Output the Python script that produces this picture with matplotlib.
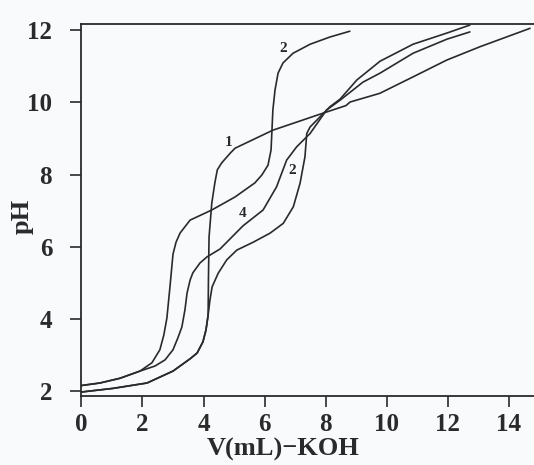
import matplotlib
matplotlib.use('Agg')
import matplotlib.pyplot as plt

plt.rcParams['font.family'] = ['Liberation Serif', 'DejaVu Serif']

# titration curves, pH vs volume of KOH (mL)
v1 = [0, 1.03, 2.15, 3.00, 3.56, 3.79, 3.98, 4.08, 4.15, 4.16, 4.18, 4.27, 4.37, 4.45,
      4.59, 4.87, 5.03, 6.27, 7.91, 8.66, 8.80, 9.77, 10.87, 11.96, 13.05, 14.69]
ph1 = [1.98, 2.08, 2.23, 2.56, 2.90, 3.06, 3.37, 3.70, 4.11, 5.08, 6.27, 7.21, 7.77, 8.13,
       8.32, 8.59, 8.73, 9.23, 9.70, 9.91, 10.01, 10.25, 10.71, 11.17, 11.54, 12.05]

v2 = [0, 0.61, 1.26, 1.92, 2.31, 2.57, 2.70, 2.80, 2.90, 3.00, 3.10, 3.23, 3.56, 4.27,
      5.03, 5.68, 5.91, 6.11, 6.21, 6.24, 6.27, 6.34, 6.44, 6.60, 6.93, 7.49, 8.14, 8.79]
ph2 = [2.16, 2.23, 2.36, 2.56, 2.79, 3.15, 3.56, 4.03, 4.89, 5.80, 6.13, 6.38, 6.74, 7.02,
       7.38, 7.77, 7.99, 8.26, 8.68, 9.23, 9.79, 10.34, 10.81, 11.09, 11.36, 11.61, 11.81, 11.97]

v3 = [0, 1.03, 2.15, 3.00, 3.56, 3.79, 3.98, 4.08, 4.15, 4.21, 4.28, 4.48, 4.76, 5.09,
      5.63, 6.18, 6.61, 6.94, 7.16, 7.32, 7.38, 7.49, 7.92, 8.14, 8.47, 9.02, 9.78, 10.86,
      11.97, 12.72]
ph3 = [1.98, 2.08, 2.23, 2.56, 2.90, 3.06, 3.37, 3.70, 4.11, 4.53, 4.89, 5.27, 5.64, 5.91,
       6.13, 6.38, 6.65, 7.11, 7.76, 8.49, 9.14, 9.32, 9.69, 9.88, 10.09, 10.62, 11.14, 11.61,
       11.92, 12.14]

v4 = [0, 0.61, 1.26, 1.92, 2.41, 2.74, 3.00, 3.16, 3.29, 3.39, 3.46, 3.56, 3.65, 3.88,
      4.11, 4.54, 5.29, 5.95, 6.39, 6.72, 7.05, 7.49, 8.03, 8.47, 9.22, 9.78, 10.86, 11.97, 12.72]
ph4 = [2.16, 2.23, 2.36, 2.56, 2.70, 2.87, 3.15, 3.48, 3.78, 4.25, 4.72, 5.08, 5.28, 5.55,
       5.72, 5.94, 6.58, 7.02, 7.66, 8.40, 8.77, 9.14, 9.79, 10.06, 10.56, 10.81, 11.36, 11.75, 11.95]

# curve labels as printed on the figure
labels = ['1', '2', '2', '4']
label_v = [4.81, 6.60, 6.89, 5.29]
label_ph = [8.90, 11.50, 8.10, 6.91]

x_ticks = [0, 2, 4, 6, 8, 10, 12, 14]
y_ticks = [2, 4, 6, 8, 10, 12]

ink = '#2a2a2a'
paper = '#f8fafc'

fig = plt.figure(figsize=(5.34, 4.65), dpi=100, facecolor=paper)
ax = fig.add_axes([0.1524, 0.1484, 0.8476, 0.8])
ax.set_facecolor(paper)

for v, ph in [(v1, ph1), (v2, ph2), (v3, ph3), (v4, ph4)]:
    ax.plot(v, ph, color=ink, lw=1.2, solid_joinstyle='round', solid_capstyle='round')

for t, x, y in zip(labels, label_v, label_ph):
    ax.text(x, y, t, fontsize=11, fontweight='bold', color=ink, ha='center', va='center')

ax.set_xlim(0, 14.82)
ax.set_ylim(1.87, 12.17)
ax.set_xticks(x_ticks)
ax.set_yticks(y_ticks)

for s in ['left', 'bottom', 'top']:
    ax.spines[s].set_linewidth(1.3)
    ax.spines[s].set_color(ink)
ax.spines['right'].set_visible(False)

ax.tick_params(axis='both', direction='out', length=8, width=1.2, color=ink,
               labelsize=18, labelcolor=ink)
ax.tick_params(axis='y', pad=13)
ax.tick_params(axis='x', pad=4)
for lab in ax.get_xticklabels() + ax.get_yticklabels():
    lab.set_fontweight('bold')

fig.text(22 / 534, 1 - 216 / 465, 'pH', rotation=90, fontsize=19, fontweight='bold',
         color=ink, ha='center', va='center')
fig.text(283 / 534, 9 / 465, 'V(mL)\u2212KOH', fontsize=19, fontweight='bold',
         color=ink, ha='center', va='baseline')

fig.savefig('out.png', dpi=100, facecolor=paper)
